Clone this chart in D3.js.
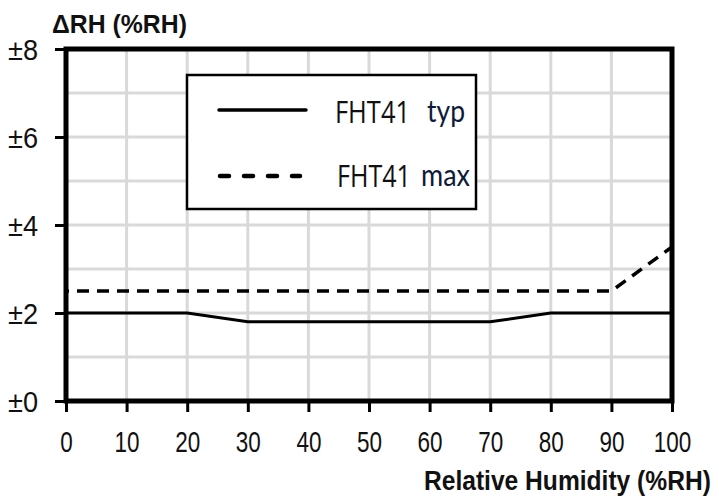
<!DOCTYPE html>
<html><head><meta charset="utf-8">
<script src="https://cdn.jsdelivr.net/npm/d3@7/dist/d3.min.js"></script>
<style>body{margin:0;background:#fff}svg{display:block}</style>
</head><body>
<svg id="c" width="719" height="504"></svg>
<script>
const xTicks = [0,10,20,30,40,50,60,70,80,90,100];
const yTicks = [0,2,4,6,8];
const yTickLabels = ["±0","±2","±4","±6","±8"];
const typX = [0,20,30,70,80,100];
const typY = [2,2,1.8,1.8,2,2];
const maxX = [0,90,100];
const maxY = [2.5,2.5,3.5];
const legendNames = ["FHT41","FHT41"];
const legendSuffix = ["typ","max"];

const svg = d3.select("#c");
const x = d3.scaleLinear().domain([0,100]).range([66,672]);
const y = d3.scaleLinear().domain([0,8]).range([401,49]);
const numF = "'Liberation Sans', Arial, sans-serif";

// narrow text helper: keep the visual height of font-size fs, squeeze to width w
function narrowText(parent, tx, ty, w, fs, family, weight, fill, str) {
  const gg = parent.append("g");
  const t = gg.append("text").attr("x",0).attr("y",0).attr("font-family",family)
    .attr("font-weight",weight).attr("font-size",fs).attr("fill",fill).text(str);
  const len = t.node().getComputedTextLength();
  const fs2 = fs * w / len;
  t.attr("font-size", fs2);
  gg.attr("transform",`translate(${tx},${ty}) scale(1,${fs/fs2})`);
  return gg;
}

// grid
const g = svg.append("g");
g.selectAll("line.v").data(d3.range(10,100,10)).join("line")
  .attr("x1",d=>x(d)).attr("x2",d=>x(d)).attr("y1",y(8)).attr("y2",y(0))
  .attr("stroke","#d9d9d9").attr("stroke-width",3);
g.selectAll("line.h").data(d3.range(1,8,1)).join("line")
  .attr("y1",d=>y(d)).attr("y2",d=>y(d)).attr("x1",x(0)).attr("x2",x(100))
  .attr("stroke","#d9d9d9").attr("stroke-width",3);

// lines
const line = d3.line().x(d=>x(d[0])).y(d=>y(d[1]));
svg.append("path").datum(typX.map((v,i)=>[v,typY[i]])).attr("d",line)
  .attr("fill","none").attr("stroke","#000").attr("stroke-width",3);
svg.append("path").datum(maxX.map((v,i)=>[v,maxY[i]])).attr("d",line)
  .attr("fill","none").attr("stroke","#000").attr("stroke-width",3.5)
  .attr("stroke-dasharray","12,8").attr("stroke-dashoffset",9);

// frame
svg.append("rect").attr("x",x(0)).attr("y",y(8)).attr("width",x(100)-x(0)).attr("height",y(0)-y(8))
  .attr("fill","none").attr("stroke","#000").attr("stroke-width",5);

// axes
const xa = svg.append("g").attr("transform",`translate(0,${y(0)})`)
  .call(d3.axisBottom(x).tickValues(xTicks).tickSize(11).tickSizeOuter(0).tickPadding(4).tickFormat(d3.format("d")));
xa.select(".domain").remove();
xa.selectAll(".tick line").attr("stroke","#000").attr("stroke-width",3);
xa.selectAll(".tick text").attr("font-family",numF).attr("font-size",30).attr("fill","#111")
  .attr("y",null).attr("dy",null).attr("transform","translate(0,51)")
  .attr("textLength",function(){return this.textContent.length*12.5;}).attr("lengthAdjust","spacingAndGlyphs");

const ya = svg.append("g").attr("transform",`translate(${x(0)},0)`)
  .call(d3.axisLeft(y).tickValues(yTicks).tickSize(11).tickSizeOuter(0).tickPadding(17).tickFormat((d,i)=>yTickLabels[i]));
ya.select(".domain").remove();
ya.selectAll(".tick line").attr("stroke","#000").attr("stroke-width",3);
ya.selectAll(".tick text").attr("font-family",numF).attr("font-size",29).attr("fill","#111")
  .attr("dy","0.36em").attr("x",-28).attr("textLength",30).attr("lengthAdjust","spacingAndGlyphs");

// titles
narrowText(svg, 52, 33, 135, 25, numF, "bold", "#111", "ΔRH (%RH)");
narrowText(svg, 424, 490, 287, 27, numF, "bold", "#111", "Relative Humidity (%RH)");

// legend
svg.append("rect").attr("x",187).attr("y",75).attr("width",289).attr("height",134)
  .attr("fill","#fff").attr("stroke","#000").attr("stroke-width",2.5);
svg.append("line").attr("x1",219).attr("x2",306).attr("y1",110).attr("y2",110)
  .attr("stroke","#000").attr("stroke-width",3.5).attr("stroke-linecap","round");
svg.append("line").attr("x1",220).attr("x2",300).attr("y1",176).attr("y2",176)
  .attr("stroke","#000").attr("stroke-width",4.5).attr("stroke-linecap","round").attr("stroke-dasharray","9,15");
const lf = "'Open Sans', 'Noto Sans', sans-serif";
const sf = "Lato, 'Open Sans', sans-serif";
const lgX = [335,337], lgY = [123,187], sfX=[427,421], sfW=[38,49], lgW=[75,74];
legendNames.forEach((n,i)=>{
  narrowText(svg, lgX[i], lgY[i], lgW[i], 31, lf, "normal", "#111", n);
  narrowText(svg, sfX[i], lgY[i]-1, sfW[i], 30, sf, "normal", "#0e1a3a", legendSuffix[i]);
});
</script>
</body></html>
